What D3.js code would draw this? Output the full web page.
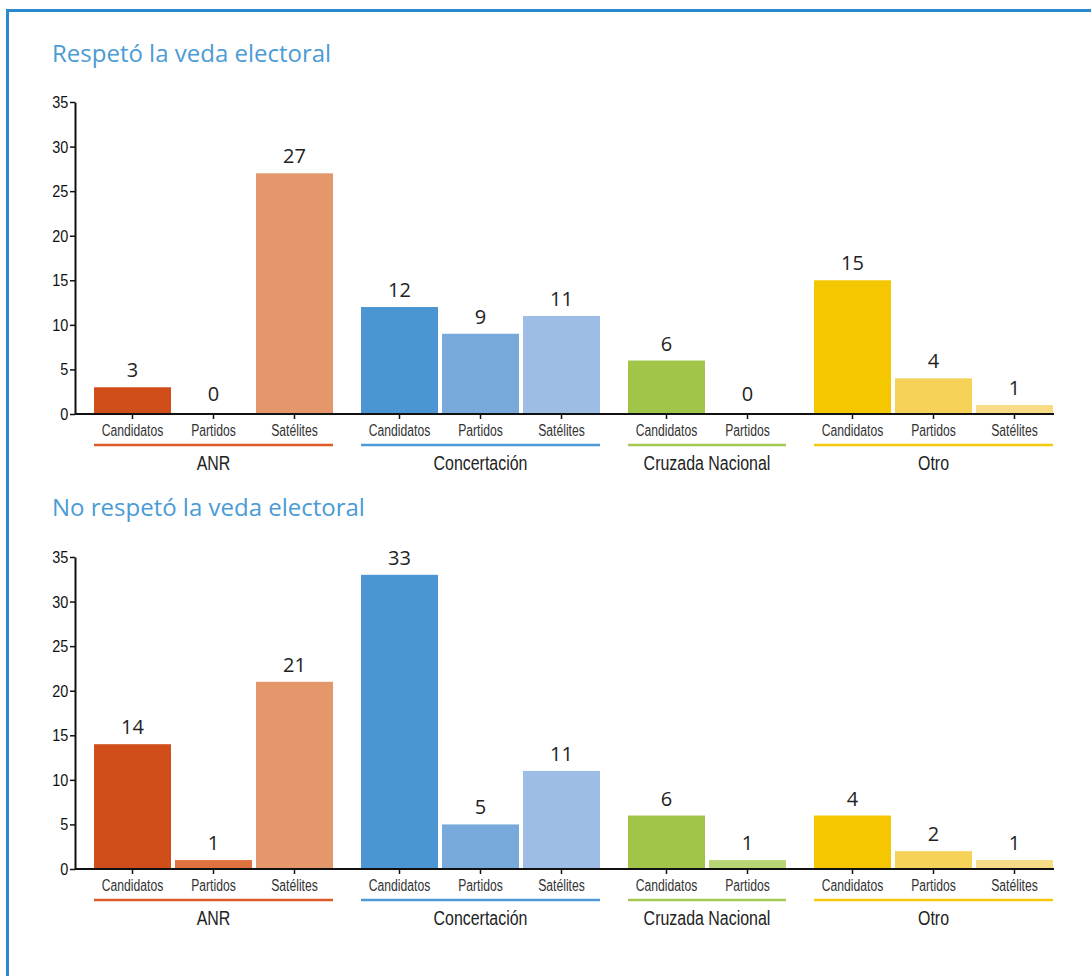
<!DOCTYPE html>
<html>
<head>
<meta charset="utf-8">
<script src="https://cdn.jsdelivr.net/npm/d3@7"></script>
<style>
  body { margin: 0; background: #fff; }
  .cond { font-family: "Liberation Sans", Arial, sans-serif; }
  .title { font-family: "Open Sans", sans-serif; font-size: 24px; fill: #4b9bd5; }
  .val { font-family: "Open Sans", sans-serif; font-size: 20px; fill: #222; }
</style>
</head>
<body>
<div id="canvas"></div>
<script>
// datos
const groups = ["ANR", "Concertación", "Cruzada Nacional", "Otro"];
const subcats = [
  ["Candidatos", "Partidos", "Satélites"],
  ["Candidatos", "Partidos", "Satélites"],
  ["Candidatos", "Partidos"],
  ["Candidatos", "Partidos", "Satélites"]
];
const respetoValues = [3, 0, 27, 12, 9, 11, 6, 0, 15, 4, 1];
const respetoLabels = ["3", "0", "27", "12", "9", "11", "6", "0", "15", "4", "1"];
const noRespetoValues = [14, 1, 21, 33, 5, 11, 6, 1, 6, 2, 1];
const noRespetoLabels = ["14", "1", "21", "33", "5", "11", "6", "1", "4", "2", "1"];
const yTicks = [0, 5, 10, 15, 20, 25, 30, 35];

const barColors = ["#d04e1a", "#e07240", "#e4976b", "#4a95d2", "#78a9db", "#9ebde4",
                   "#a1c548", "#b7d574", "#f4c700", "#f6d258", "#f7dc85"];
const groupColors = ["#dc5b28", "#4f9ad6", "#a5c852", "#f5c80a"];

const width = 1091, height = 976;
const svg = d3.select("#canvas").append("svg")
  .attr("width", width).attr("height", height);

// marco
svg.append("path")
  .attr("d", `M7.5,${height + 5} V10.5 H${width + 5}`)
  .attr("fill", "none").attr("stroke", "#2a8ad0").attr("stroke-width", 3);

// barras planas
const bars = [];
groups.forEach((g, gi) => subcats[gi].forEach(s => bars.push({ group: g, gi: gi, sub: s, key: g + "|" + s })));

const step = 81, gap = 4, groupGap = 24;
const x = d3.scaleBand()
  .domain(bars.map(d => d.key))
  .range([0, step * bars.length - gap])
  .paddingInner(gap / step)
  .paddingOuter(0);

const left = 94, axisX = 75;
const xPos = d => left + x(d.key) + d.gi * groupGap;

function drawChart(title, values, labels, titleY, top, base) {
  const g = svg.append("g");
  g.append("text").attr("class", "title").attr("x", 52).attr("y", titleY).text(title);

  const y = d3.scaleLinear().domain([0, 35]).range([base, top]);

  // barras
  g.selectAll("rect.bar").data(bars).enter().append("rect")
    .attr("class", "bar")
    .attr("x", d => xPos(d))
    .attr("y", (d, i) => y(values[i]))
    .attr("width", x.bandwidth())
    .attr("height", (d, i) => base - y(values[i]))
    .attr("fill", (d, i) => barColors[i]);

  // etiquetas de valor
  g.selectAll("text.val").data(bars).enter().append("text")
    .attr("class", "val")
    .attr("x", d => xPos(d) + x.bandwidth() / 2)
    .attr("y", (d, i) => y(values[i]) - (values[i] === 0 ? 13 : 10))
    .attr("text-anchor", "middle")
    .text((d, i) => labels[i]);

  // eje y
  const ya = g.append("g")
    .attr("transform", `translate(${axisX},0)`)
    .call(d3.axisLeft(y).tickValues(yTicks).tickSize(5).tickSizeOuter(0).tickPadding(3));
  ya.select(".domain").attr("stroke", "#111").attr("stroke-width", 2);
  ya.selectAll(".tick line").attr("stroke", "#111").attr("stroke-width", 1.5);
  ya.selectAll(".tick text").attr("class", "cond").attr("font-size", 17).attr("fill", "#111")
    .attr("transform", "scale(0.85,1)");
  ya.attr("font-family", null).attr("font-size", null);

  // ejes x por grupo
  groups.forEach((grp, gi) => {
    const keys = bars.filter(d => d.gi === gi).map(d => d.key);
    const xa = g.append("g")
      .attr("transform", `translate(${left + gi * groupGap},${base})`)
      .call(d3.axisBottom(x).tickValues(keys).tickSize(5).tickPadding(6)
        .tickFormat(k => k.split("|")[1]));
    xa.select(".domain").remove();
    xa.selectAll(".tick line").attr("stroke", "#111").attr("stroke-width", 1.5);
    xa.selectAll(".tick text").attr("class", "cond").attr("font-size", 16).attr("fill", "#333")
      .attr("transform", "scale(0.76,1)");
    xa.attr("font-family", null).attr("font-size", null);

    const first = xPos(bars.find(d => d.key === keys[0]));
    const last = xPos(bars.find(d => d.key === keys[keys.length - 1])) + x.bandwidth();
    g.append("line")
      .attr("x1", first).attr("x2", last)
      .attr("y1", base + 31).attr("y2", base + 31)
      .attr("stroke", groupColors[gi]).attr("stroke-width", 2.5);
    g.append("g")
      .attr("transform", `translate(${(first + last) / 2},${base + 56})`)
      .append("text").attr("class", "cond")
      .attr("transform", "scale(0.76,1)")
      .attr("text-anchor", "middle").attr("font-size", 21).attr("fill", "#222")
      .text(grp);
  });

  // línea base
  g.append("line")
    .attr("x1", axisX).attr("x2", xPos(bars[bars.length - 1]) + x.bandwidth() + 1)
    .attr("y1", base).attr("y2", base)
    .attr("stroke", "#111").attr("stroke-width", 2);
}

drawChart("Respetó la veda electoral", respetoValues, respetoLabels, 62, 102, 414);
drawChart("No respetó la veda electoral", noRespetoValues, noRespetoLabels, 516, 557, 869);
</script>
</body>
</html>
